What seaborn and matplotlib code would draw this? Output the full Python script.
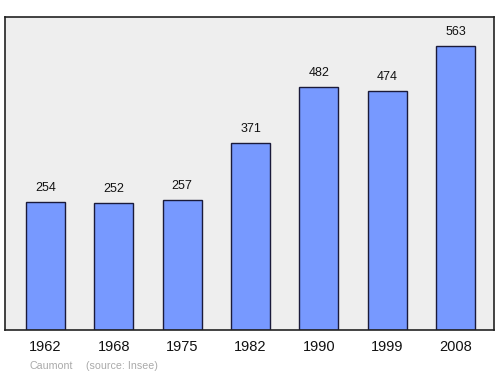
import matplotlib
matplotlib.use("Agg")
import matplotlib.pyplot as plt
import seaborn as sns
import pandas as pd

years = ["1962", "1968", "1975", "1982", "1990", "1999", "2008"]
population = [254, 252, 257, 371, 482, 474, 563]

sns.set_theme(style="white")
plt.rcParams['font.family'] = ['Liberation Sans', 'DejaVu Sans']

df = pd.DataFrame({"year": years, "pop": population})

fig = plt.figure(figsize=(5.0, 3.74), dpi=100)
ax = fig.add_axes([0.01, 0.1176, 0.978, 0.837])
ax.set_facecolor("#eeeeee")
sns.barplot(data=df, x="year", y="pop", ax=ax, color="#7799ff", saturation=1,
            width=0.57, edgecolor="#1a1a3a", linewidth=1.0)
for i, v in enumerate(population):
    ax.text(i, v + 16, str(v), ha="center", va="bottom", fontsize=9, color="#111111")
ax.set_xlim(-0.592, 6.56)
ax.set_ylim(0, 621)
ax.set_yticks([])
ax.set_xlabel("")
ax.set_ylabel("")
ax.tick_params(axis="x", length=0, labelsize=10.5, pad=7.5, colors="#111111")
for s in ax.spines.values():
    s.set_visible(True)
    s.set_color("#222222")
    s.set_linewidth(1.2)
fig.text(0.06, 0.013, "Caumont", fontsize=7.7, color="#aaaaaa")
fig.text(0.172, 0.013, "(source: Insee)", fontsize=7.7, color="#aaaaaa")
fig.savefig("out.png", dpi=100)
